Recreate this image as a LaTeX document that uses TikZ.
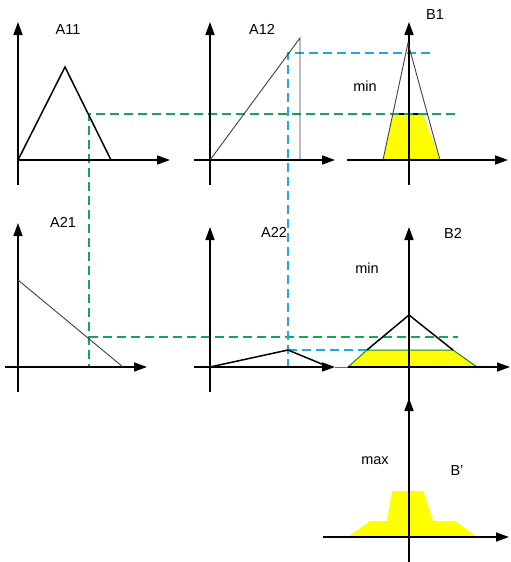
\documentclass[tikz,border=0pt]{standalone}
\usepackage{fontspec}
\setmainfont{Liberation Sans}
\usetikzlibrary{arrows.meta}
\definecolor{dgreen}{RGB}{20,165,90}
\definecolor{dblue}{RGB}{30,170,225}
\definecolor{fyellow}{RGB}{255,255,0}
\tikzset{
  axis/.style={line width=1.5pt,-{Triangle[length=13pt,width=9pt]}},
  gdash/.style={dgreen,line width=1.4pt,dash pattern=on 9pt off 5pt},
  bdash/.style={dblue,line width=1.4pt,dash pattern=on 9pt off 5pt},
  thinline/.style={draw=black!75,line width=0.9pt},
  thickline/.style={draw=black,line width=1.5pt},
  lbl/.style={font=\fontsize{14.5}{16}\selectfont,inner sep=0pt}
}
\begin{document}
\begin{tikzpicture}[x=1pt,y=-1pt]
\useasboundingbox (0,0) rectangle (511,562);
% coordinates
\coordinate (O11) at (18,160);
\coordinate (O12) at (210,160);
\coordinate (OB1) at (409,160);
\coordinate (O21) at (18,367);
\coordinate (O22) at (210,367);
\coordinate (OB2) at (409,367);
\coordinate (OB) at (409,537);
% fills first
\fill[fyellow] (383,160) -- (393,114) -- (423,114) -- (440,160) -- cycle;
\draw[thickline,line width=1.2pt] (393,114) -- (423,114);
\fill[fyellow,draw=dgreen!80!black,line width=1pt] (348,367) -- (367,350) -- (453,350) -- (477,367) -- cycle;
\fill[fyellow] (348,537) -- (370,521) -- (387,521) -- (392,491) -- (423,491) -- (433,521) -- (455,521) -- (477,537) -- cycle;
% dashed guides
\coordinate (g1) at (89,114);
\coordinate (g1e) at (455,114);
\coordinate (g2) at (89,337);
\coordinate (g2e) at (458,337);
\coordinate (g2b) at (89,367);
\draw[gdash] (g1e) -- (g1) -- (g2b);
\draw[gdash] (g2) -- (g2e);
\coordinate (b1) at (288,53);
\coordinate (b1e) at (430,53);
\coordinate (b2) at (288,350);
\coordinate (b2e) at (367,350);
\coordinate (b2b) at (288,367);
\draw[bdash] (b1e) -- (b1) -- (b2b);
\draw[bdash] (b2) -- (b2e);
% axes row 1
\draw[axis] (18,185) -- (18,22);
\draw[axis] (18,160) -- (170,160);
\draw[axis] (210,185) -- (210,22);
\draw[axis] (194,160) -- (335,160);
\draw[axis] (409,185) -- (409,22);
\draw[axis] (347,160) -- (508,160);
% axes row 2
\draw[axis] (18,392) -- (18,223);
\draw[axis] (5,367) -- (147,367);
\draw[axis] (210,392) -- (210,227);
\draw[axis] (194,367) -- (335,367);
\draw[line width=1pt,black!60] (335,367) -- (348,367);
\draw[axis] (409,400) -- (409,227);
\draw[axis] (348,367) -- (510,367);
% axes row 3
\draw[axis] (409,562) -- (409,398);
\draw[axis] (323,537) -- (509,537);
% membership functions
\draw[thickline] (O11) -- (65,67) -- (111,160);
\draw[thinline] (O12) -- (300,38) -- (300,160);
\draw[thinline] (383,160) -- (408,43) -- (440,160);
\draw[thinline] (18,280) -- (123,367);
\draw[thickline] (O22) -- (288,350) -- (329,367);
\draw[thickline] (367,350) -- (409,315) -- (453,350);
% labels
\node[lbl] (tA11) at (68,30) {A11};
\node[lbl] (tA12) at (262,29) {A12};
\node[lbl] (tB1) at (435,15) {B1};
\node[lbl] (tmin1) at (365,86) {min};
\node[lbl] (tA21) at (63,222) {A21};
\node[lbl] (tA22) at (274,232) {A22};
\node[lbl] (tB2) at (453,233) {B2};
\node[lbl] (tmin2) at (367,268) {min};
\node[lbl] (tmax) at (375,461) {max};
\node[lbl] (tBp) at (457,471) {B'};
\end{tikzpicture}
\end{document}
